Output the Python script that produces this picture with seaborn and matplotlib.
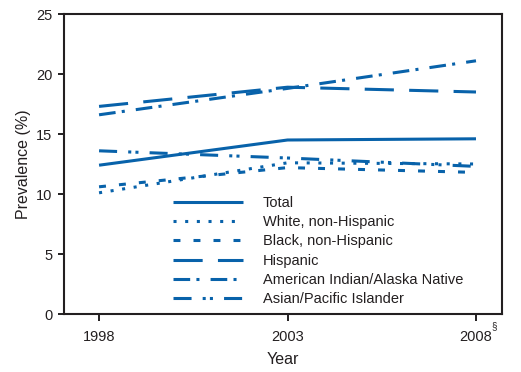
import pandas as pd
import matplotlib
matplotlib.use("Agg")
import matplotlib.pyplot as plt
import seaborn as sns

# ---- Data ----
years = [1998, 2003, 2008]
groups = [
    "Total",
    "White, non-Hispanic",
    "Black, non-Hispanic",
    "Hispanic",
    "American Indian/Alaska Native",
    "Asian/Pacific Islander",
]
total = [12.4, 14.5, 14.6]
white = [10.1, 12.6, 12.5]
black = [10.6, 12.2, 11.8]
hispanic = [17.3, 18.9, 18.5]
aian = [16.6, 18.8, 21.1]
asian = [13.6, 13.0, 12.3]

values = [total, white, black, hispanic, aian, asian]
rows = []
for g, vals in zip(groups, values):
    for yr, v in zip(years, vals):
        rows.append({"Year": yr, "Group": g, "Prevalence": v})
df = pd.DataFrame(rows)

# ---- Style ----
sns.set_theme(style="ticks")
plt.rcParams["font.family"] = ["Liberation Sans", "DejaVu Sans"]
plt.rcParams["lines.scale_dashes"] = False
ink = "#231f20"
blue = "#0862aa"

dash_map = {
    "Total": "",
    "White, non-Hispanic": (2.2, 6.2),
    "Black, non-Hispanic": (5.0, 9.4),
    "Hispanic": (21.0, 11.0),
    "American Indian/Alaska Native": (12.0, 4.5, 2.2, 8.0),
    "Asian/Pacific Islander": (13.0, 8.0, 2.2, 3.0, 2.2, 8.0),
}

fig = plt.figure(figsize=(5.21, 3.72), dpi=100)
ax = fig.add_axes([64 / 521, 58 / 372, 438 / 521, 300 / 372])

sns.lineplot(
    data=df, x="Year", y="Prevalence", hue="Group", style="Group",
    hue_order=groups, style_order=groups,
    palette=[blue] * len(groups), dashes=dash_map,
    linewidth=2.2, ax=ax, legend=True,
)
for line in ax.lines:
    line.set_dash_capstyle("butt")
    line.set_solid_capstyle("butt")

# ---- Axes ----
ax.set_xlim(1997.07, 2008.69)
ax.set_ylim(0, 25)
ax.set_yticks([0, 5, 10, 15, 20, 25])
ax.set_xticks(years)
ax.set_xticklabels([str(y) for y in years])
ax.tick_params(axis="both", colors=ink, labelsize=10.5, width=1.4)
ax.tick_params(axis="y", length=4.2, pad=4)
ax.tick_params(axis="x", length=5.2, pad=6)
for s in ax.spines.values():
    s.set_linewidth(1.5)
    s.set_color(ink)
    s.set_visible(True)
ax.set_xlabel("Year", fontsize=11.5, color=ink, labelpad=6)
ax.set_ylabel("Prevalence (%)", fontsize=11.5, color=ink, labelpad=4)
# footnote mark on the last tick label
ax.text(2008.40, -0.62, "§", fontsize=7, color=ink, ha="left", va="top",
        transform=ax.transData, clip_on=False)

# ---- Legend ----
handles, labels = ax.get_legend_handles_labels()
ax.legend(
    handles, labels, frameon=False, loc="upper left",
    bbox_to_anchor=(173 / 521, 1 - 196 / 372), bbox_transform=fig.transFigure,
    borderpad=0, borderaxespad=0, fontsize=10.5, labelcolor=ink,
    handlelength=4.8, handletextpad=1.37, labelspacing=0.36,
)

fig.savefig("out.png", dpi=100)
